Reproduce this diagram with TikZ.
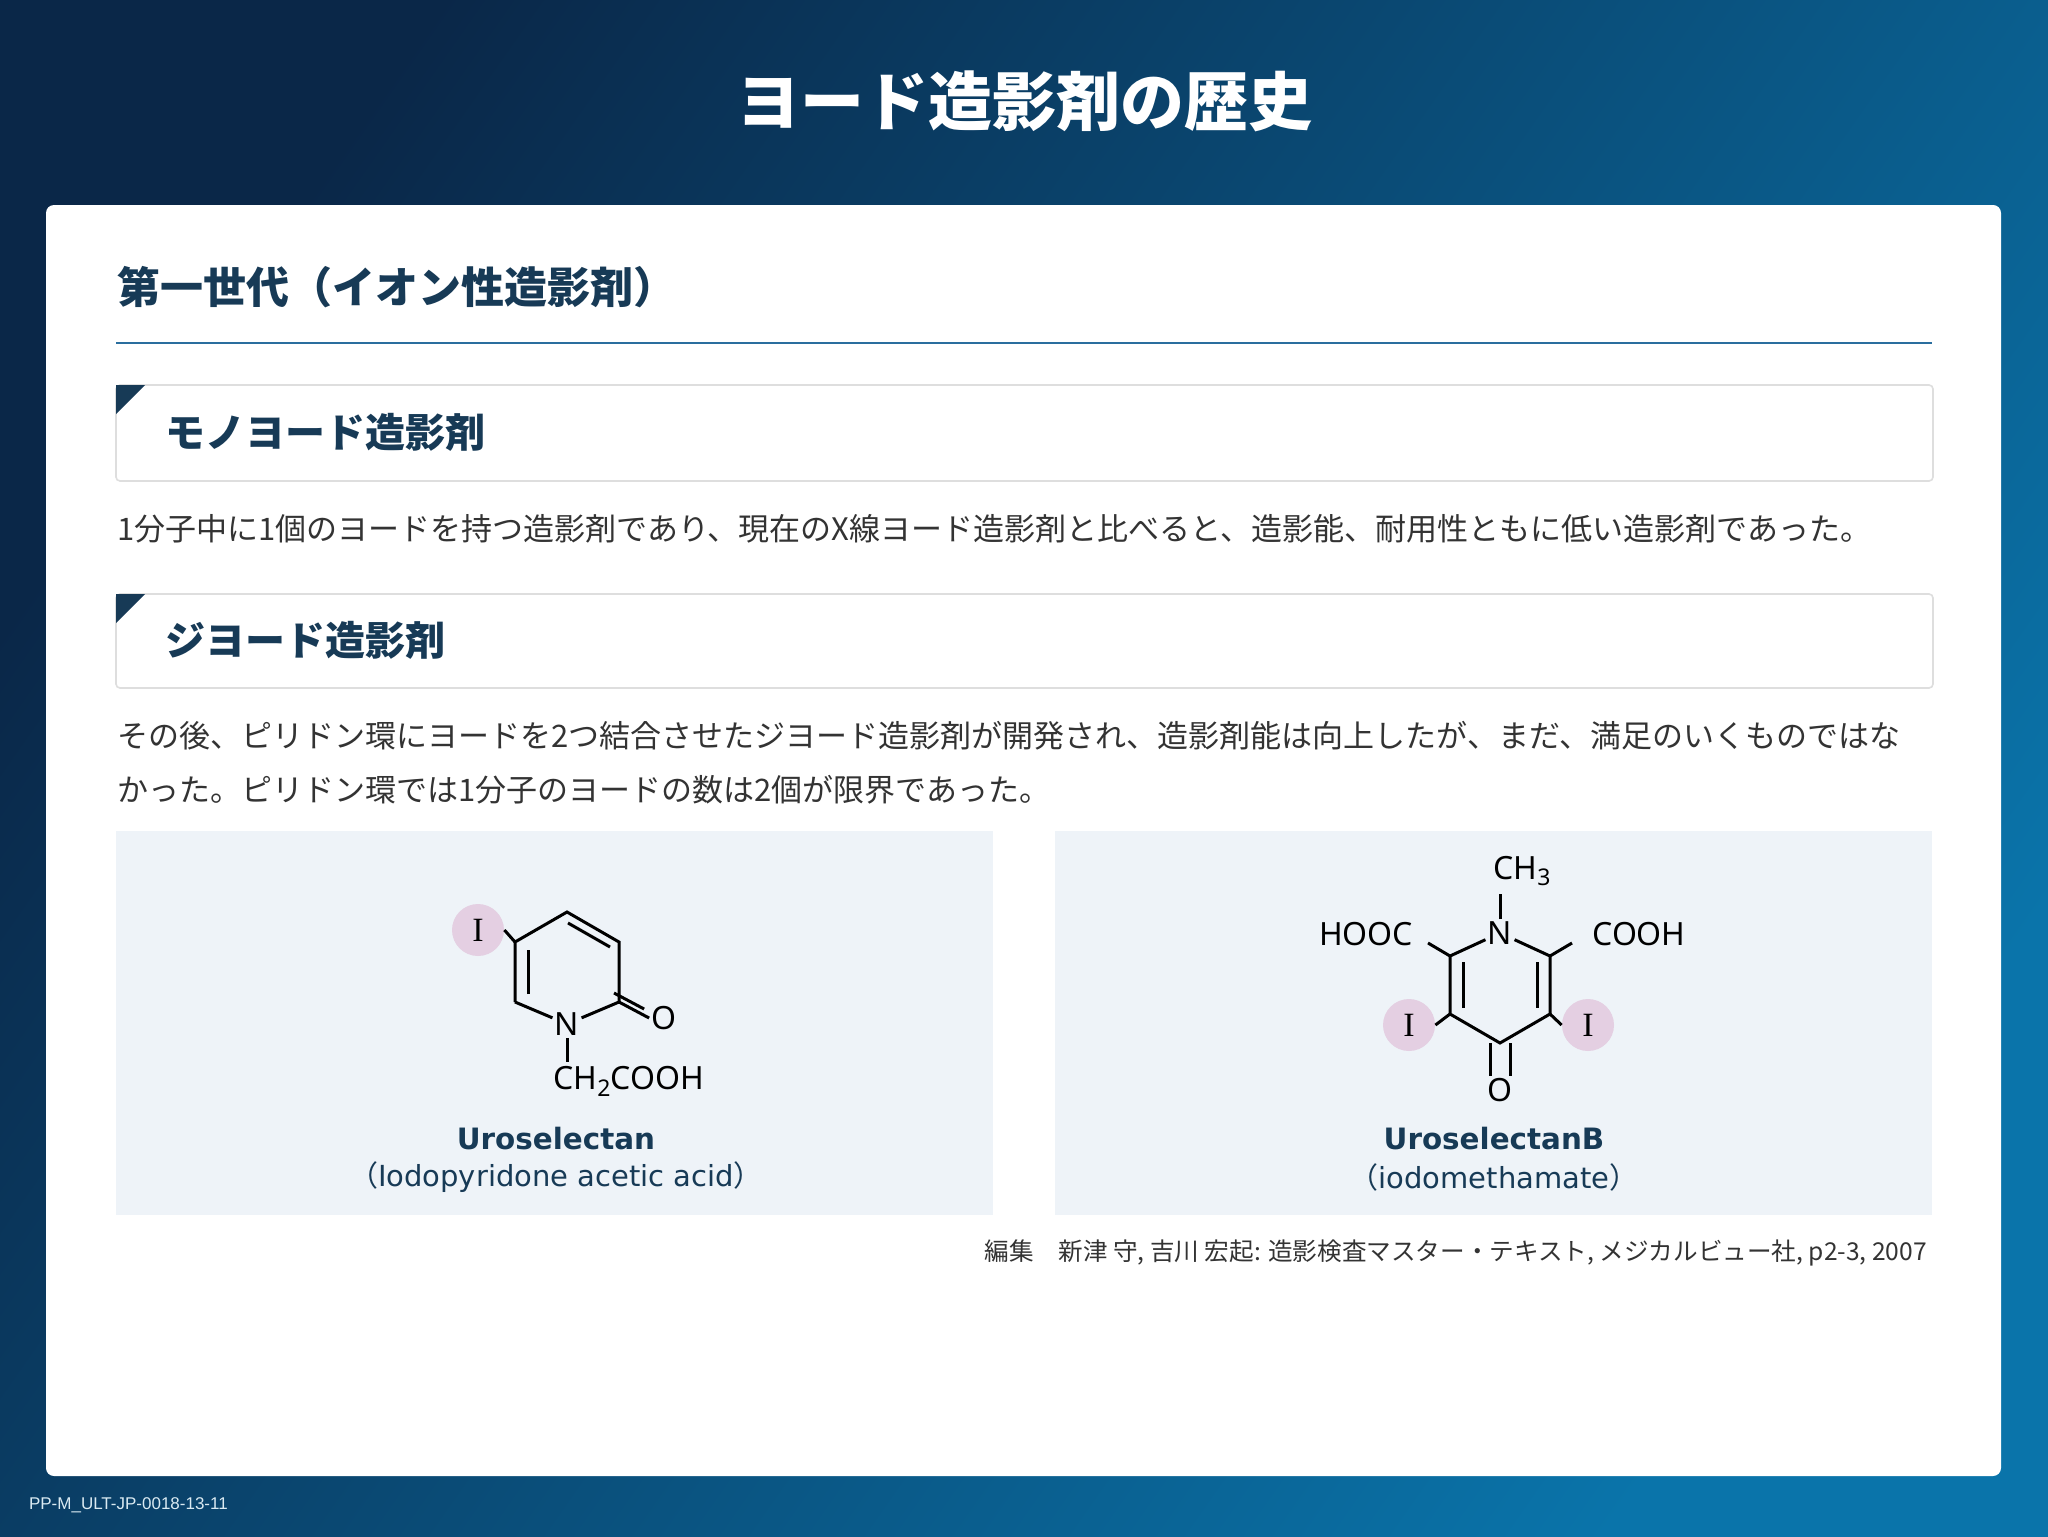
\documentclass[tikz,border=0pt]{standalone}
\usepackage{fontspec}
\setmainfont{Noto Sans CJK JP}
\setsansfont{Noto Sans}
\newfontfamily\jpfont{Noto Sans CJK JP}
\newfontfamily\labfont{DejaVu Sans}
\newfontfamily\iodfont{Liberation Serif}
\newfontfamily\footfont{Liberation Sans}
\usetikzlibrary{positioning}
\newcommand\atomsub[1]{\raisebox{-0.4ex}{\fontsize{11.5}{12}\selectfont #1}}
\definecolor{navy}{HTML}{173A56}
\definecolor{bgdark}{HTML}{0A2748}
\definecolor{bglight}{HTML}{0A74AA}
\definecolor{rule}{HTML}{2A6E9E}
\definecolor{panel}{HTML}{EEF3F8}
\definecolor{iodine}{HTML}{E4CFE2}
\definecolor{bodytext}{HTML}{333333}
\tikzset{
  heading/.style={anchor=west, text=navy, font=\fontsize{21.5}{26}\selectfont\bfseries},
  subbox/.style={draw=black!13, fill=white, rounded corners=2pt, line width=0.8pt},
  subtitle/.style={anchor=west, text=navy, font=\fontsize{20}{24}\selectfont\bfseries},
  body/.style={anchor=west, text=bodytext, font=\fontsize{15.5}{27}\selectfont, align=left},
  atom/.style={inner sep=1pt, font=\sffamily\fontsize{16}{18}\selectfont},
  iod/.style={circle, fill=iodine, minimum size=26pt, inner sep=0pt, font=\iodfont\fontsize{17}{18}\selectfont},
  bond/.style={line width=1.5pt},
  molname/.style={text=navy, font=\labfont\bfseries\fontsize{14.7}{16}\selectfont},
  molsub/.style={text=navy, font=\labfont\fontsize{14.5}{16}\selectfont},
}
\begin{document}
\begin{tikzpicture}[x=0.5pt, y=-0.5pt]
  \useasboundingbox (0,0) rectangle (2048,1536);
  \shade[left color=bgdark, right color=bglight, shading angle=55] (0,0) rectangle (2048,1536);
  \node[text=white, font=\fontsize{32}{36}\selectfont\bfseries] (title) at (1024,101) {ヨード造影剤の歴史};
  \fill[white, rounded corners=4pt] (46,205) rectangle (2001,1476);

  % section heading
  \node[heading] (gen1) at (110,287) {第一世代（イオン性造影剤）};
  \draw[rule, line width=1pt] (116,343) -- (1932,343);

  % mono-iodo
  \draw[subbox] (116,385) rectangle (1933,481);
  \fill[navy] (116,385) -- (145,385) -- (116,414) -- cycle;
  \node[subtitle] (mono) at (158,432) {モノヨード造影剤};
  \node[body] (monotext) at (110,529) {1分子中に1個のヨードを持つ造影剤であり、現在のX線ヨード造影剤と比べると、造影能、耐用性ともに低い造影剤であった。};

  % di-iodo
  \draw[subbox] (116,594) rectangle (1933,688);
  \fill[navy] (116,594) -- (145,594) -- (116,623) -- cycle;
  \node[subtitle] (di) at (158,640) {ジヨード造影剤};
  \node[body] (ditext) at (110,763) {その後、ピリドン環にヨードを2つ結合させたジヨード造影剤が開発され、造影剤能は向上したが、まだ、満足のいくものではな\\かった。ピリドン環では1分子のヨードの数は2個が限界であった。};

  % panels
  \fill[panel] (116,831) rectangle (993,1215);
  \fill[panel] (1055,831) rectangle (1932,1215);

  % Uroselectan
  \coordinate (a1) at (567,912);
  \coordinate (a2) at (619,942);
  \coordinate (a3) at (619,1002);
  \coordinate (a5) at (515,1002);
  \coordinate (a6) at (515,942);
  \node[atom] (n1) at (567,1024) {N};
  \node[iod] (i1) at (478,930) {I};
  \node[atom] (o1) at (664,1018) {O};
  \node[atom, anchor=west] (ch2) at (551,1081) {CH\atomsub{2}COOH};
  \draw[bond] (a5) -- (a6) -- (a1) -- (a2) -- (a3) -- (n1) -- (a5);
  \draw[bond] (a1) ++(1,11) -- ++(42,24);
  \draw[bond] (a5) ++(13,-8) -- ++(0,-44);
  \draw[bond] (a6) -- (i1.east);
  \draw[bond] (a3) -- (o1.west);
  \draw[bond] (a3) ++(-5,-9) -- ([shift={(-5,-9)}]o1.west);
  \draw[bond] (n1) -- (567,1062);
  \node[molname] (uro) at (556,1139) {Uroselectan};
  \node[molsub] (urosub) at (556,1177) {{\jpfont（}Iodopyridone acetic acid{\jpfont）}};

  % UroselectanB
  \coordinate (b2) at (1550,956);
  \coordinate (b3) at (1550,1014);
  \coordinate (b4) at (1500,1043);
  \coordinate (b5) at (1450,1014);
  \coordinate (b6) at (1450,956);
  \node[atom] (n2) at (1500,933) {N};
  \node[atom] (ch3) at (1522,871) {CH\atomsub{3}};
  \node[atom] (hooc) at (1366,934) {HOOC};
  \node[atom] (cooh) at (1639,934) {COOH};
  \node[iod] (i2) at (1409,1025) {I};
  \node[iod] (i3) at (1588,1025) {I};
  \node[atom] (o2) at (1500,1090) {O};
  \draw[bond] (n2) -- (b2) -- (b3) -- (b4) -- (b5) -- (b6) -- (n2);
  \draw[bond] (b6) ++(13,6) -- ++(0,46);
  \draw[bond] (b2) ++(-13,6) -- ++(0,46);
  \draw[bond] (n2) -- (1500,894);
  \draw[bond] (b6) -- (1428,943);
  \draw[bond] (b2) -- (1572,943);
  \draw[bond] (b5) -- (i2.east);
  \draw[bond] (b3) -- (i3.west);
  \draw[bond] ([xshift=-5]b4) -- ([xshift=-5]o2.north);
  \draw[bond] ([xshift=5]b4) -- ([xshift=5]o2.north);
  \node[molname] (urob) at (1494,1139) {UroselectanB};
  \node[molsub] (urobsub) at (1494,1177) {{\jpfont（}iodomethamate{\jpfont）}};

  % citation
  \node[anchor=east, text=bodytext, font=\fontsize{12.3}{14}\selectfont] (cite) at (1934,1253) {編集\quad 新津 守, 吉川 宏起: 造影検査マスター・テキスト, メジカルビュー社, p2-3, 2007};
  \node[anchor=west, text=white!85!bglight, font=\footfont\fontsize{8.5}{10}\selectfont] (code) at (22,1505) {PP-M\_ULT-JP-0018-13-11};
\end{tikzpicture}
\end{document}
